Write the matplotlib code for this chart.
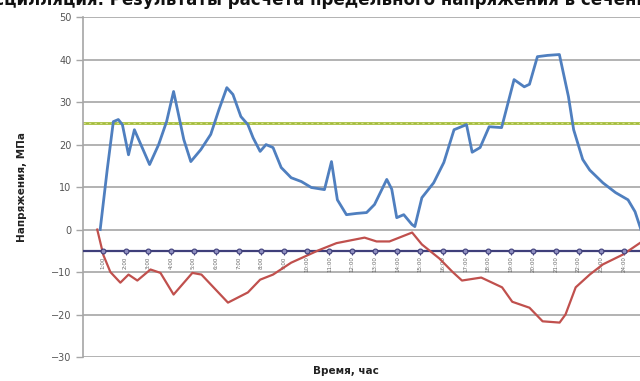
import matplotlib
matplotlib.use("Agg")
import matplotlib.pyplot as plt

# Time, hours
t_upper = [0.13, 0.44, 0.71, 0.93, 1.11, 1.38, 1.64, 2.31, 2.71, 3.06, 3.37, 3.59, 3.82,
           4.13, 4.57, 5.01, 5.37, 5.72, 5.99, 6.34, 6.65, 6.88, 7.19, 7.45, 7.76, 8.12,
           8.56, 9.01, 9.45, 10.03, 10.34, 10.6, 11.0, 11.45, 11.89, 12.24, 12.78, 13.0,
           13.22, 13.53, 13.89, 14.02, 14.33, 14.85, 15.3, 15.75, 16.3, 16.55, 16.9, 17.3,
           17.85, 18.4, 18.85, 19.08, 19.43, 19.88, 20.4, 20.8, 21.03, 21.43, 21.74, 22.32,
           22.88, 23.43, 23.74, 24.0]
# Upper fibre stress, MPa
s_upper = [0, 14.1, 25.4, 25.9, 24.7, 17.6, 23.5, 15.3, 20, 25.4, 32.5, 27, 21.2,
           16, 18.8, 22.4, 28.2, 33.4, 31.8, 26.6, 24.7, 21.6, 18.4, 20, 19.3, 14.6,
           12.2, 11.3, 9.9, 9.4, 16, 7, 3.5, 3.8, 4, 5.9, 11.8, 9.5,
           2.8, 3.5, 1.2, 0.7, 7.5, 11, 15.8, 23.5, 24.7, 18.2, 19.3, 24.2,
           24, 35.3, 33.6, 34.2, 40.7, 41, 41.2, 31.3, 23.5, 16.5, 14, 11,
           8.7, 7, 4.2, 0]

t_lower = [0.0, 0.27, 0.58, 1.02, 1.38, 1.77, 2.35, 2.79, 3.37, 4.2, 4.6, 5.77, 6.65,
           7.19, 7.76, 8.56, 9.76, 10.56, 11.8, 12.33, 12.9, 13.9, 14.33, 15.1, 15.67,
           16.1, 16.95, 17.87, 18.32, 19.08, 19.66, 20.41, 20.67, 21.12, 21.74, 22.32,
           23.2, 24.0]
# Lower fibre stress, MPa
s_lower = [0, -6, -10, -12.5, -10.6, -12, -9.4, -10.2, -15.3, -10.2, -10.6, -17.2, -14.8,
           -11.8, -10.6, -7.8, -4.9, -3.2, -1.9, -2.8, -2.8, -0.7, -3.5, -6.8, -9.9,
           -12, -11.3, -13.6, -17, -18.4, -21.6, -21.9, -20, -13.6, -10.6, -8.2,
           -5.9, -3.0]

limit_upper = 25
limit_lower = -5
hour_marks = [k + 0.25 for k in range(24)]
hour_labels = [f"{k}:00" for k in range(1, 25)]

fig = plt.figure(figsize=(6.4, 3.81), dpi=100)
ax = fig.add_axes([0.13, 0.063, 0.875, 0.892])

grid_c = "#a6a6a6"
for v in range(-30, 51, 10):
    ax.axhline(v, color=grid_c, lw=1.2, zorder=1)

ax.axhline(limit_upper, color="#a5bd3c", lw=2.0, zorder=2)
ax.axhline(limit_upper, color="#d6e08a", lw=0.8, ls=(0, (2, 3)), zorder=2)

ax.plot(t_upper, s_upper, color="#4f7fbf", lw=2.0, zorder=4)
ax.plot(t_lower, s_lower, color="#c0504d", lw=1.6, zorder=4)

ax.axhline(limit_lower, color="#3f3f7a", lw=1.6, zorder=3)
ax.plot(hour_marks, [limit_lower] * len(hour_marks), ls="none", marker="o",
        ms=3.5, mfc="#8e8ec0", mec="#3f3f7a", mew=0.8, zorder=5)

ax.set_xlim(-0.62, 24.1)
ax.set_ylim(-30, 50)
ax.set_yticks(range(-30, 51, 10))
ax.tick_params(axis="y", labelsize=7, colors="#555555", length=5, width=1, color=grid_c)

ax.spines["bottom"].set_position(("data", limit_lower))
ax.spines["bottom"].set_visible(False)
ax.spines["top"].set_visible(False)
ax.spines["right"].set_visible(False)
ax.spines["left"].set_color(grid_c)
ax.spines["left"].set_linewidth(1.2)
ax.set_xticks(hour_marks)
ax.set_xticklabels(hour_labels, rotation=90, fontsize=4, color="#666666")
ax.tick_params(axis="x", length=3, color="#3f3f7a", pad=1)

fig.text(0.035, 0.51, "Напряжения, МПа", rotation=90, ha="center", va="center",
         fontsize=7.5, fontweight="bold", color="#222222")
fig.text(0.54, 0.025, "Время, час", ha="center", va="center",
         fontsize=7.5, fontweight="bold", color="#222222")
fig.text(0.5, 1.0, "Осцилляция. Результаты расчета предельного напряжения в сечении",
         ha="center", va="center", fontsize=12, fontweight="bold", color="#111111")

fig.savefig("out.png", dpi=100, facecolor="white")
